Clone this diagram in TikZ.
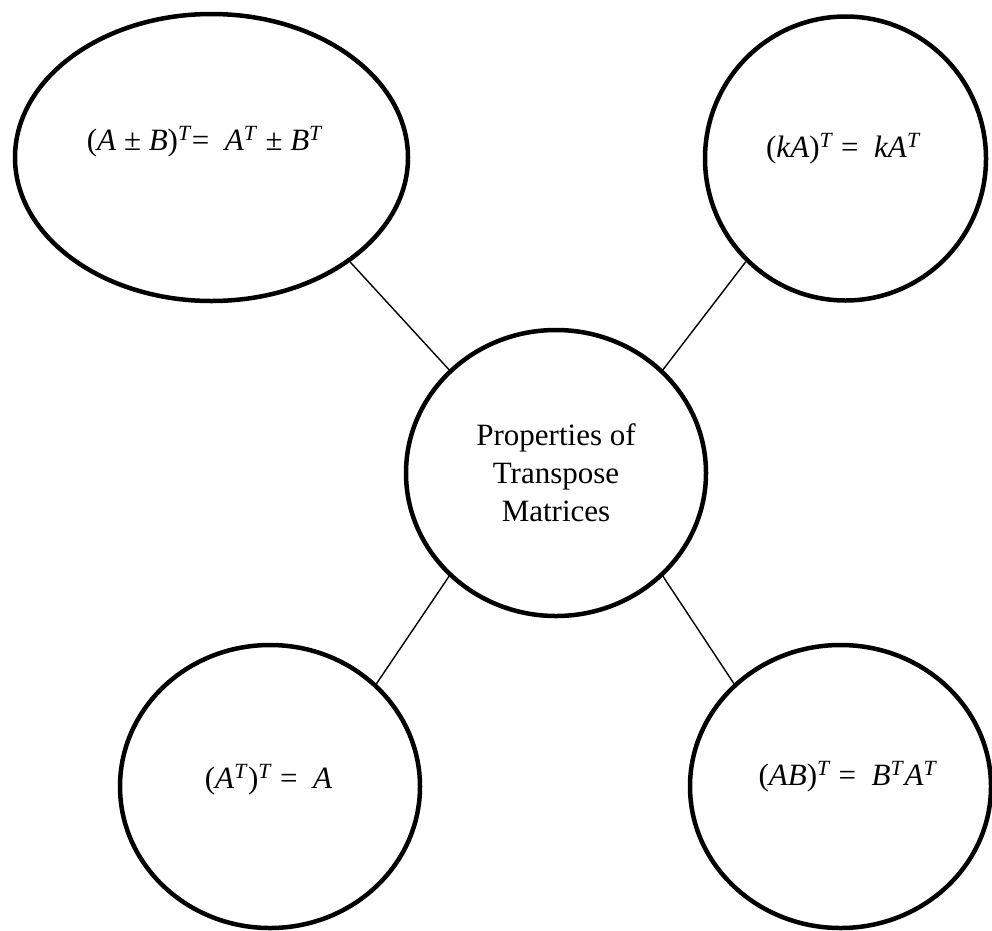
\documentclass[tikz,border=0pt]{standalone}
\usepackage{fontspec}
\setmainfont{Liberation Serif}
\usetikzlibrary{shapes.geometric,positioning}

\newcommand{\supT}{\textsuperscript{\textit{T}}}

\begin{document}
\begin{tikzpicture}[x=1pt, y=-1pt,
				prop/.style={ellipse, draw, line width=4.5pt, inner sep=0pt},
				link/.style={line width=1.4pt},
				formula/.style={anchor=base, inner sep=0pt, font=\fontsize{31}{38}\selectfont}
				]
				\useasboundingbox (0,0) rectangle (992,930);

				% the five ellipses
				\node[prop, minimum width=393pt, minimum height=287pt] (sum) at (211.5,157.5) {};
				\node[prop, minimum width=281pt, minimum height=284pt] (scal) at (845.5,158.5) {};
				\node[prop, minimum width=300pt, minimum height=283pt] (inv) at (270,786.5) {};
				\node[prop, minimum width=301pt, minimum height=283pt] (prod) at (840.5,786.5) {};
				\node[prop, minimum width=300pt, minimum height=286pt, align=center,
					font=\fontsize{31}{38}\selectfont] (main) at (556,473) {Properties of\\Transpose\\Matrices};

				% formulas
				\node[formula] (sumtxt) at ([xshift=-6.5pt, yshift=7.5pt]sum.center)
					{(\textit{A} ± \textit{B})\supT=~ \textit{A}\supT{} ± \textit{B}\supT};
				\node[formula] (scaltxt) at ([xshift=-2pt, yshift=1.5pt]scal.center)
					{(\textit{kA})\supT{} = ~\textit{kA}\supT};
				\node[formula] (invtxt) at ([xshift=-1.5pt, yshift=-1.5pt]inv.center)
					{(\textit{A}\supT)\supT{} =~ \textit{A}};
				\node[formula] (prodtxt) at ([xshift=7.5pt, yshift=1.5pt]prod.center)
					{(\textit{AB})\supT{} =~ \textit{B}\supT\textit{A}\supT};

				% links to the middle
				\draw[link] (sum.-37) -- (main.136);
				\draw[link] (scal.-134) -- (main.44);
				\draw[link] (inv.44) -- (main.-136);
				\draw[link] (prod.136) -- (main.-44);
			\end{tikzpicture}
\end{document}
